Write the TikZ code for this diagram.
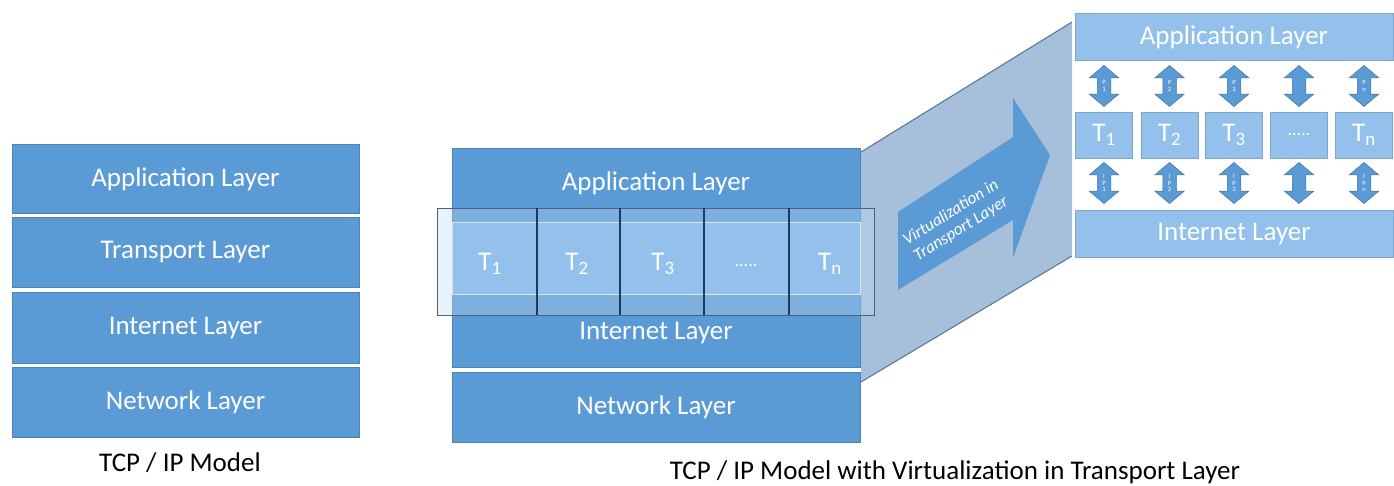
\documentclass[tikz,border=0pt]{standalone}
\usepackage{fontspec}
\setmainfont{Carlito}
\usetikzlibrary{shapes.arrows}
\definecolor{layerblue}{HTML}{5B9BD5}
\definecolor{lightlayer}{HTML}{93C1EC}
\definecolor{projblue}{HTML}{A6C0DC}
\definecolor{edgeblue}{HTML}{41719C}
\definecolor{navyline}{HTML}{1F3A5C}
\tikzset{
  layer/.style={fill=layerblue, draw=layerblue!85!black, line width=0.6pt},
  lightbox/.style={fill=lightlayer, draw=lightlayer!85!black, line width=0.6pt},
  layertext/.style={text=white, font=\fontsize{27}{30}\selectfont},
  dots/.style={text=white, font=\fontsize{18}{20}\selectfont},
  pipe/.style={double arrow, shape border rotate=90, fill=layerblue, draw=edgeblue, line width=0.5pt,
    minimum height=41pt, text width=4pt, inner xsep=4.5pt, inner ysep=1pt, align=center,
    double arrow head extend=8pt, double arrow tip angle=100,
    text=white, font=\fontsize{6.5}{6.5}\selectfont},
}
\def\tsub#1{T\textsubscript{#1}}

\begin{document}
\begin{tikzpicture}[x=1pt,y=-1pt]
		%%%%% START %%%%%
		\useasboundingbox (0,0) rectangle (1394,486);
		
		% plain stack
		\draw[layer] (12,144) rectangle (359,213);
		\draw[layer] (12,217) rectangle (359,287);
		\draw[layer] (12,292) rectangle (359,363);
		\draw[layer] (12,367) rectangle (359,437);
		\node[layertext] (appA) at (185.5,179) {Application Layer};
		\node[layertext] (traA) at (185.5,252) {Transport Layer};
		\node[layertext] (intA) at (185.5,328) {Internet Layer};
		\node[layertext] (netA) at (185.5,402) {Network Layer};
		\node[font=\fontsize{27}{30}\selectfont] (capA) at (180,463) {TCP / IP Model};
		
		% projection
		\fill[projblue] (861,152) -- (1072,22) -- (1072,256) -- (861,382) -- cycle;
		\draw[edgeblue!80!gray, line width=1pt] (861,152) -- (1072,22);
		\draw[edgeblue!80!gray, line width=1pt] (861,382) -- (1072,256);
		\fill[layerblue] (898,212) -- (1013,137) -- (1013,98) -- (1050,155) -- (1013,258) -- (1013,220) -- (898,290) -- cycle;
		\node[text=white, font=\fontsize{17}{19}\selectfont\itshape, align=center, rotate=32, inner sep=0pt] (virt) at (956,221) {Virtualization in\\Transport Layer};
		
		% stack with transport band
		\draw[layer] (452,148) rectangle (860,367);
		\draw[layer] (452,372) rectangle (860,442);
		\draw[fill=lightlayer!60!white, fill opacity=0.35, draw=navyline!80, line width=0.8pt] (437,208) rectangle (874,315);
		\draw[fill=lightlayer, draw=white!60!lightlayer, line width=0.8pt] (452,222) rectangle (860,294);
		\foreach \x in {537,620,704,789}
			\draw[navyline, line width=1.4pt] (\x,208) -- (\x,315);
		\node[layertext] (appB) at (656,183) {Application Layer};
		\node[layertext] (intB) at (656,333) {Internet Layer};
		\node[layertext] (netB) at (656,407) {Network Layer};
		\node[layertext] (tB1) at (490,264) {\tsub{1}};
		\node[layertext] (tB2) at (577,264) {\tsub{2}};
		\node[layertext] (tB3) at (663,264) {\tsub{3}};
		\node[dots] (tB4) at (746,266) {.....};
		\node[layertext] (tB5) at (830,264) {\tsub{n}};
		\node[font=\fontsize{27}{30}\selectfont] (capB) at (955,472) {TCP / IP Model with Virtualization in Transport Layer};
		
		% virtualized transport
		\draw[lightbox] (1075,13) rectangle (1393,60);
		\draw[lightbox] (1075,210) rectangle (1393,257);
		\node[layertext] (appC) at (1234,37) {Application Layer};
		\node[layertext] (intC) at (1234,234) {Internet Layer};
		\foreach \x/\k/\up/\dn [count=\i] in {1104/{\tsub{1}}/{P\\1}/{I\\P\\1}, 1169.5/{\tsub{2}}/{P\\2}/{I\\P\\2}, 1234/{\tsub{3}}/{P\\3}/{I\\P\\3}, 1299/{}/{}/{}, 1364/{\tsub{n}}/{P\\n}/{I\\P\\n}} {
			\node[lightbox, layertext, minimum width=57pt, minimum height=46pt] (tC\i) at (\x,135) {\k};
			\node[pipe] (up\i) at (\x,86) {\up};
			\node[pipe] (dn\i) at (\x,183) {\dn};
		}
		\node[dots] (dotC) at (tC4) {.....};
		
		%%%%% END %%%%%
	\end{tikzpicture}
\end{document}
